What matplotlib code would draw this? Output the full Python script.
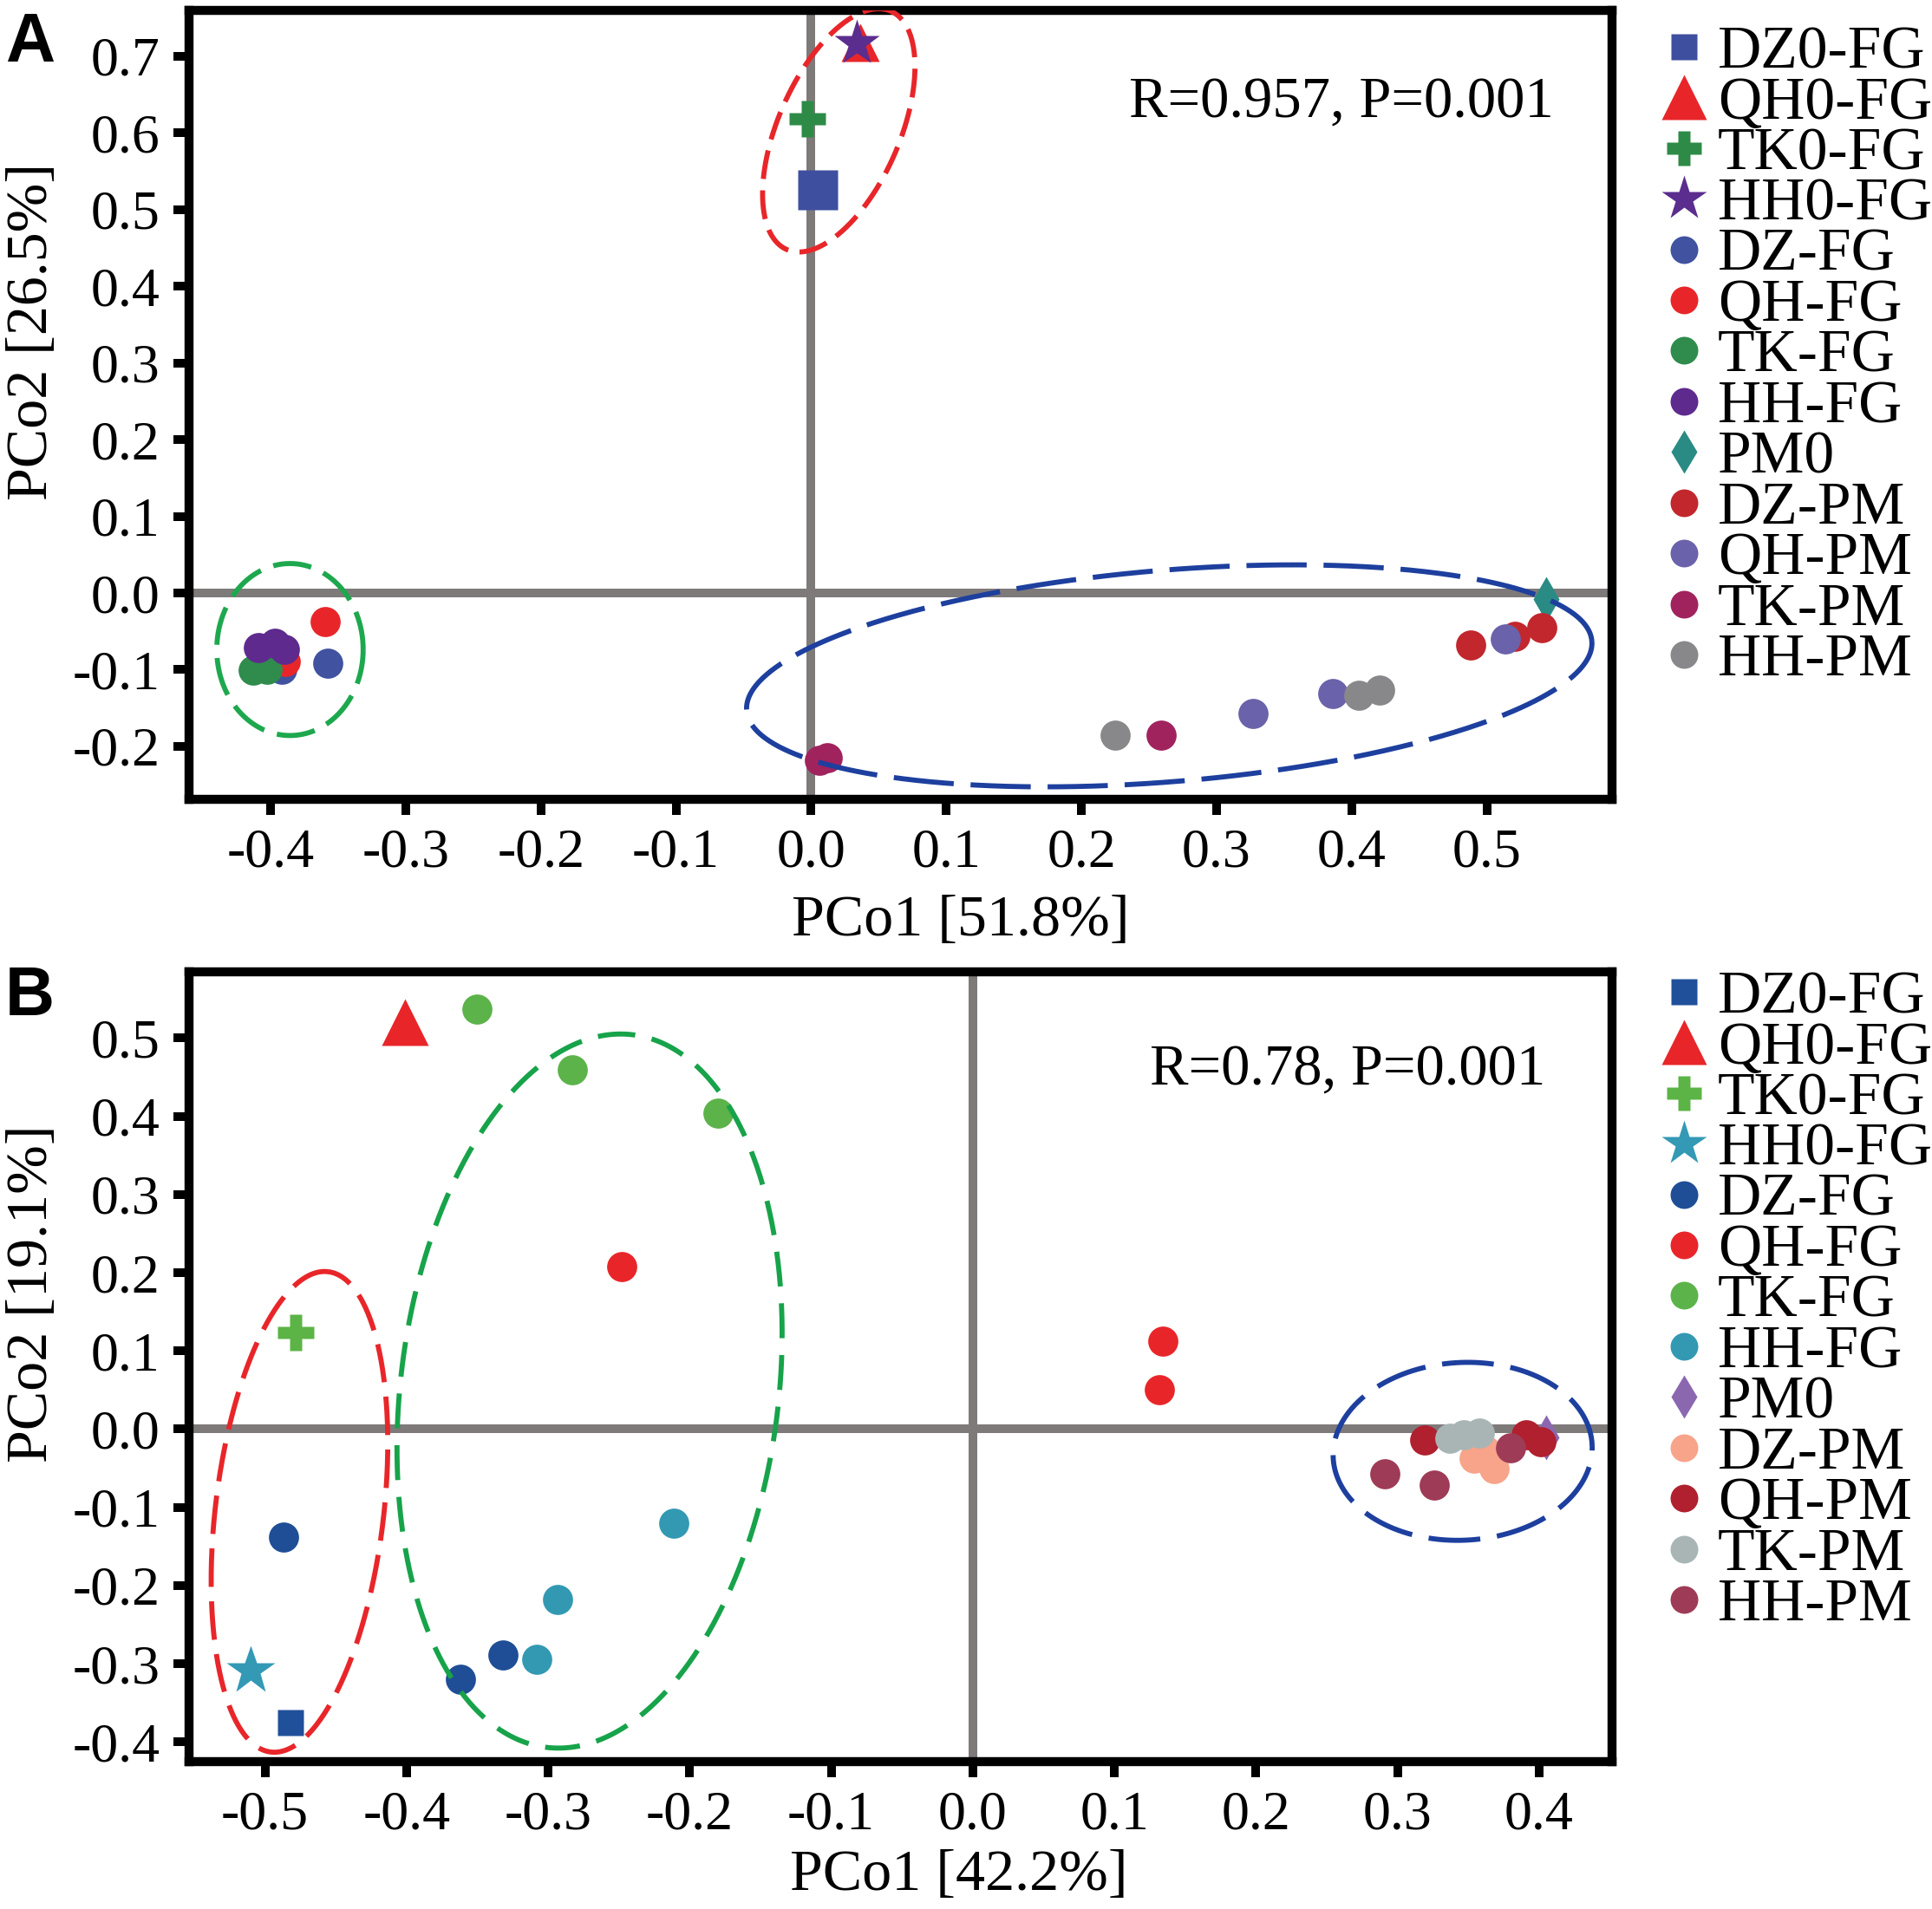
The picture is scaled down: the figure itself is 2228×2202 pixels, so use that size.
import numpy as np
import matplotlib
matplotlib.use('Agg')
import matplotlib.pyplot as plt
from matplotlib.lines import Line2D

plt.rcParams['font.family'] = ['Liberation Serif', 'DejaVu Serif']
plt.rcParams['axes.unicode_minus'] = False
plt.rcParams['lines.scale_dashes'] = False

W, H, DPI = 2228, 2202, 100
SERIF = ['Liberation Serif', 'DejaVu Serif']

# ------------------------------------------------------------------ data
groups = ["DZ0-FG", "QH0-FG", "TK0-FG", "HH0-FG", "DZ-FG", "QH-FG", "TK-FG",
          "HH-FG", "PM0", "DZ-PM", "QH-PM", "TK-PM", "HH-PM"]

# Panel A  (PCo1 51.8 %, PCo2 26.5 %)
a_x = [[0.005], [0.036], [-0.003], [0.034],
       [-0.392, -0.358], [-0.389, -0.360], [-0.413, -0.403], [-0.409, -0.397, -0.390],
       [0.544], [0.488, 0.521, 0.541], [0.514, 0.386, 0.327],
       [0.259, 0.006, 0.012], [0.225, 0.405, 0.421]]
a_y = [[0.525], [0.717], [0.618], [0.716],
       [-0.099, -0.092], [-0.089, -0.037], [-0.101, -0.099], [-0.071, -0.066, -0.073],
       [-0.008], [-0.068, -0.056, -0.045], [-0.060, -0.131, -0.157],
       [-0.185, -0.218, -0.215], [-0.185, -0.133, -0.127]]
a_xticks = [-0.4, -0.3, -0.2, -0.1, 0.0, 0.1, 0.2, 0.3, 0.4, 0.5]
a_yticks = [-0.2, -0.1, 0.0, 0.1, 0.2, 0.3, 0.4, 0.5, 0.6, 0.7]
a_xlabel, a_ylabel = "PCo1 [51.8%]", "PCo2 [26.5%]"
a_stat = "R=0.957, P=0.001"

# Panel B  (PCo1 42.2 %, PCo2 19.1 %)
b_x = [[-0.482], [-0.401], [-0.478], [-0.510],
       [-0.487, -0.362, -0.332], [-0.248, 0.134, 0.132], [-0.350, -0.283, -0.180],
       [-0.211, -0.293, -0.308],
       [0.405], [0.354, 0.368, 0.362], [0.319, 0.391, 0.401],
       [0.337, 0.347, 0.358], [0.291, 0.326, 0.380]]
b_y = [[-0.375], [0.521], [0.124], [-0.309],
       [-0.138, -0.320, -0.289], [0.208, 0.113, 0.050], [0.537, 0.459, 0.404],
       [-0.120, -0.218, -0.294],
       [-0.011], [-0.037, -0.051, -0.027], [-0.014, -0.007, -0.016],
       [-0.012, -0.007, -0.005], [-0.057, -0.071, -0.024]]
b_xticks = [-0.5, -0.4, -0.3, -0.2, -0.1, 0.0, 0.1, 0.2, 0.3, 0.4]
b_yticks = [-0.4, -0.3, -0.2, -0.1, 0.0, 0.1, 0.2, 0.3, 0.4, 0.5]
b_xlabel, b_ylabel = "PCo1 [42.2%]", "PCo2 [19.1%]"
b_stat = "R=0.78, P=0.001"

# group ellipses: centre (data)
a_ell_cx = [0.0204, -0.3858, 0.265]
a_ell_cy = [0.603, -0.0737, -0.108]
b_ell_cx = [-0.4756, -0.2707, 0.346]
b_ell_cy = [-0.1058, 0.0487, -0.0284]

# ------------------------------------------------------------------ styles
markers = ['s', '^', 'P', '*', 'o', 'o', 'o', 'o', 'd', 'o', 'o', 'o', 'o']
a_ms = [33, 32, 30, 40, 25, 25, 25, 25, 26, 25, 25, 25, 25]
b_ms = [22, 39, 30, 42, 25, 25, 25, 25, 26, 25, 25, 25, 25]
leg_ms = [22, 37, 29, 39, 23, 23, 23, 23, 25, 23, 23, 23, 23]

a_colors = ['#3f4f9f', '#e8262a', '#2e8b47', '#5b2d8e', '#4052a0', '#e8262a',
            '#2f8c4c', '#5e2a8e', '#2a8b84', '#c1272d', '#6a62aa', '#a0235e', '#88888a']
b_colors = ['#20509a', '#e8262a', '#5cb447', '#3399b5', '#1f4e96', '#e8262a',
            '#5cb34a', '#3399b3', '#8b67b0', '#f7a48a', '#b0202e', '#a9b5b5', '#9e3b56']

# semi-axes in px, angle in degrees (screen space)
a_ell_style = [dict(a=150, b=70, ang=66.4, color='#e8262a', dash=(24, 9.5)),
               dict(a=84.4, b=99.2, ang=0.0, color='#1ea84e', dash=(32, 11)),
               dict(a=489, b=122, ang=4.7, color='#1d3f9e', dash=(50, 14))]
b_ell_style = [dict(a=279, b=97, ang=83.2, color='#e8262a', dash=(32, 12)),
               dict(a=414, b=218, ang=83.1, color='#17a34a', dash=(29, 14)),
               dict(a=149.5, b=102.5, ang=3.0, color='#1d3f9e', dash=(43, 14))]

ZERO_GRAY = '#7f7a7a'
FONT_TICK = 46
FONT_LABEL = 49
FONT_LEG = 50
FONT_STAT = 48

fig = plt.figure(figsize=(W / DPI, H / DPI), dpi=DPI)


def px_axes(left, right, top, bottom):
    return fig.add_axes([left / W, 1 - bottom / H, (right - left) / W, (bottom - top) / H])


def draw_ellipse(ax, cx, cy, st):
    x0, x1 = ax.get_xlim()
    y0, y1 = ax.get_ylim()
    bb = ax.get_position()
    ppx = bb.width * W / (x1 - x0)
    ppy = bb.height * H / (y1 - y0)
    t = np.linspace(0, 2 * np.pi, 600)
    th = np.deg2rad(st['ang'])
    dx = st['a'] * np.cos(t) * np.cos(th) - st['b'] * np.sin(t) * np.sin(th)
    dy = st['a'] * np.cos(t) * np.sin(th) + st['b'] * np.sin(t) * np.cos(th)
    ax.plot(cx + dx / ppx, cy + dy / ppy, color=st['color'], lw=4.2,
            dashes=st['dash'], dash_capstyle='butt', zorder=6)


def panel(ax, xs, ys, colors, ms, xlim, ylim, xticks, yticks, xlabel, ylabel,
          xlab_pos, ylab_pos, ell_cx, ell_cy, ell_style):
    ax.set_xlim(*xlim)
    ax.set_ylim(*ylim)
    ax.axhline(0, color=ZERO_GRAY, lw=7.2, zorder=1)
    ax.axvline(0, color=ZERO_GRAY, lw=7.2, zorder=1)
    for gx, gy, m, c, s in zip(xs, ys, markers, colors, ms):
        ax.plot(gx, gy, ls='none', marker=m, ms=s, color=c, mec='none', zorder=3)
    for cx, cy, st in zip(ell_cx, ell_cy, ell_style):
        draw_ellipse(ax, cx, cy, st)
    ax.set_xticks(xticks)
    ax.set_yticks(yticks)
    ax.set_xticklabels([f"{v:.1f}" for v in xticks], fontfamily=SERIF)
    ax.set_yticklabels([f"{v:.1f}" for v in yticks], fontfamily=SERIF)
    ax.tick_params(direction='out', length=13, width=7.2, pad=11,
                   labelsize=FONT_TICK, colors='black')
    for sp in ax.spines.values():
        sp.set_linewidth(7.5)
        sp.set_color('black')
    ax.set_xlabel(xlabel, fontsize=FONT_LABEL, fontfamily=SERIF)
    ax.set_ylabel(ylabel, fontsize=FONT_LABEL, fontfamily=SERIF)
    ax.xaxis.set_label_coords(*xlab_pos)
    ax.yaxis.set_label_coords(*ylab_pos)
    ax.xaxis.label.set_va('center')
    ax.yaxis.label.set_va('center')


def legend(colors, center_y):
    handles = [Line2D([], [], ls='none', marker=m, ms=s, color=c, mec='none')
               for m, s, c in zip(markers, leg_ms, colors)]
    fig.legend(handles, groups, loc='center left',
               bbox_to_anchor=(1914 / W, 1 - center_y / H), frameon=False,
               prop={'family': SERIF, 'size': FONT_LEG},
               handlelength=0.8, handletextpad=0.16,
               labelspacing=-0.075, borderpad=0, borderaxespad=0, numpoints=1,
               handleheight=0.7)


# ---- panel A
axA = px_axes(218, 1858.5, 11.7, 921.7)
panel(axA, a_x, a_y, a_colors, a_ms, (-0.4605, 0.5924), (-0.2686, 0.7597),
      a_xticks, a_yticks, a_xlabel, a_ylabel, (0.5425, -0.155), (-0.110, 0.593),
      a_ell_cx, a_ell_cy, a_ell_style)
axA.text(1302 / W, 1 - 135 / H, a_stat, transform=fig.transFigure,
         fontsize=FONT_STAT, fontfamily=SERIF, ha='left', va='baseline')
legend(a_colors, 412)

# ---- panel B
axB = px_axes(218, 1859, 1121, 2032)
panel(axB, b_x, b_y, b_colors, b_ms, (-0.5536, 0.4515), (-0.4252, 0.5848),
      b_xticks, b_yticks, b_xlabel, b_ylabel, (0.541, -0.1438), (-0.110, 0.593),
      b_ell_cx, b_ell_cy, b_ell_style)
axB.text(1326 / W, 1 - 1251 / H, b_stat, transform=fig.transFigure,
         fontsize=FONT_STAT, fontfamily=SERIF, ha='left', va='baseline')
legend(b_colors, 1502)

# panel letters
for lab, base in (("A", 71), ("B", 1171)):
    fig.text(6 / W, 1 - base / H, lab, fontsize=57, fontweight='bold',
             family=['Liberation Sans', 'DejaVu Sans'], ha='left', va='baseline')

fig.savefig('out.png', dpi=DPI)
